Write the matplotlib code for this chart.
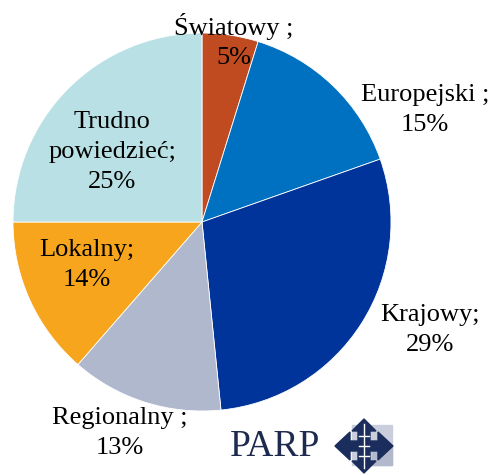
import matplotlib
matplotlib.use("Agg")
import matplotlib.pyplot as plt
from matplotlib.patches import Polygon, Rectangle

# shares (labels show rounded values)
categories = ["Światowy", "Europejski", "Krajowy", "Regionalny", "Lokalny", "Trudno\npowiedzieć"]
shares = [4.8, 14.8, 28.8, 13.0, 13.6, 25.0]
label_sep = [" ;", " ;", ";", " ;", ";", ";"]
colors = ["#C04B21", "#0070C0", "#00349A", "#B0B8CE", "#F7A51D", "#B9E0E4"]

# label centres in pixels (x, y from top)
label_pos = [(234, 41), (425, 110), (430, 330), (120, 433), (87, 265), (112, 152)]

W, H = 493, 475
fig = plt.figure(figsize=(W / 100, H / 100), dpi=100)
ax = fig.add_axes([0, 0, 1, 1])
ax.set_xlim(0, W)
ax.set_ylim(0, H)
ax.set_aspect("equal")
ax.axis("off")

ax.pie(shares, colors=colors, startangle=90, counterclock=False,
       center=(202, H - 222), radius=189,
       wedgeprops=dict(edgecolor="white", linewidth=0.6))
ax.set_xlim(0, W)
ax.set_ylim(0, H)

font = dict(family="Liberation Serif", fontsize=19, color="black",
            ha="center", va="center", linespacing=1.45)
for name, sep, val, (x, y) in zip(categories, label_sep, shares, label_pos):
    ax.text(x, H - y, f"{name}{sep}\n{round(val):d}%", **font)

# PARP logo
ax.text(230, H - 447, "PARP", family="Liberation Serif", fontsize=27,
        color="#1E2A4E", ha="left", va="center")
ax.add_patch(Rectangle((352, H - 465), 40, 40, color="#C9CDDC", zorder=2))
ax.add_patch(Rectangle((372, H - 465), 20, 20, color="#B3B8CC", zorder=2))
cx, cy = 364, H - 446
arrow = [(cx - 29, cy), (cx - 14, cy + 14), (cx - 14, cy + 5), (cx - 6, cy + 5),
         (cx - 6, cy + 15), (cx - 12, cy + 15), (cx, cy + 27), (cx + 12, cy + 15),
         (cx + 6, cy + 15), (cx + 6, cy + 5), (cx + 14, cy + 5), (cx + 14, cy + 14),
         (cx + 29, cy), (cx + 14, cy - 14), (cx + 14, cy - 5), (cx + 6, cy - 5),
         (cx + 6, cy - 15), (cx + 12, cy - 15), (cx, cy - 27), (cx - 12, cy - 15),
         (cx - 6, cy - 15), (cx - 6, cy - 5), (cx - 14, cy - 5), (cx - 14, cy - 14)]
ax.add_patch(Polygon(arrow, closed=True, color="#1B2D5C", zorder=3))
for dy in (-10, 0, 10):
    ax.plot([cx - 5, cx + 5], [cy + dy, cy + dy], color="white", lw=1, zorder=4)
ax.plot([cx, cx], [cy - 22, cy + 22], color="white", lw=1, zorder=4)

fig.savefig("out.png", dpi=100)
